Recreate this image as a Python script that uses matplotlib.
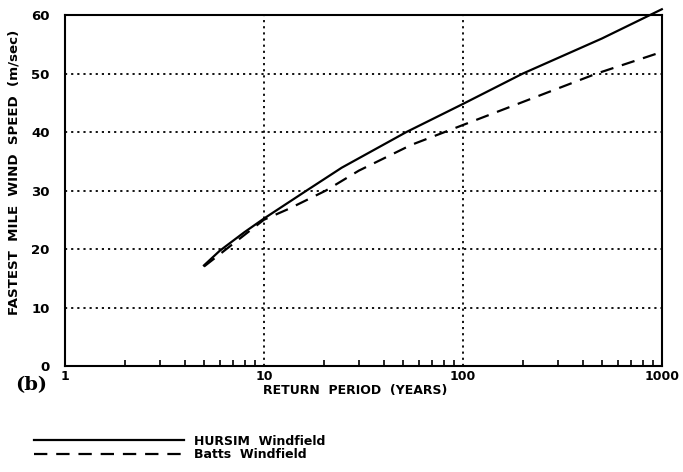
import matplotlib
matplotlib.use("Agg")
import matplotlib.pyplot as plt
from matplotlib.ticker import LogLocator, NullFormatter, FixedLocator

# Data
hursim_x = [5, 6, 8, 10, 16.4, 24.6, 52, 100, 200, 500, 1000]
hursim_y = [17.2, 19.7, 22.9, 25.2, 30.0, 33.9, 40.0, 44.8, 50.0, 56.0, 61.0]
batts_x = [5, 10, 13.4, 20.5, 30, 55, 100, 470, 1000]
batts_y = [17.0, 25.0, 26.9, 30.0, 33.4, 37.8, 41.2, 50.0, 53.7]

x_ticks = [1, 10, 100, 1000]
x_tick_labels = ["1", "10", "100", "1000"]
y_ticks = [0, 10, 20, 30, 40, 50, 60]

fig = plt.figure(figsize=(6.83, 4.72), dpi=100)
ax = fig.add_axes([0.095, 0.2246, 0.874, 0.7434])

l1, = ax.plot(hursim_x, hursim_y, color="black", lw=1.6, clip_on=False,
              label="HURSIM  Windfield")
l2, = ax.plot(batts_x, batts_y, color="black", lw=1.6, ls=(0, (6, 4)), clip_on=False,
              label="Batts  Windfield")

ax.set_xscale("log")
ax.set_xlim(1, 1000)
ax.set_ylim(0, 60)
ax.xaxis.set_major_locator(FixedLocator(x_ticks))
ax.set_xticklabels(x_tick_labels)
ax.xaxis.set_minor_locator(LogLocator(base=10, subs=range(2, 10)))
ax.xaxis.set_minor_formatter(NullFormatter())
ax.set_yticks(y_ticks)

ax.grid(True, which="major", color="black", ls=(0, (1.2, 2.2)), lw=1.3)
ax.tick_params(axis="x", which="major", length=0, labelsize=9, pad=3)
ax.tick_params(axis="y", which="major", length=0, labelsize=9.5, pad=11)
ax.tick_params(axis="x", which="minor", direction="in", length=4, width=1.2)
for lab in ax.get_xticklabels() + ax.get_yticklabels():
    lab.set_fontweight("bold")
for s in ax.spines.values():
    s.set_linewidth(1.5)

ax.set_xlabel("RETURN  PERIOD  (YEARS)", fontsize=9, fontweight="bold")
ax.xaxis.set_label_coords(0.487, -0.052, transform=ax.transAxes)
ax.xaxis.label.set_va("top")
ax.set_ylabel("FASTEST  MILE  WIND  SPEED  (m/sec)", fontsize=9.6, fontweight="bold")
ax.yaxis.set_label_coords(-0.075, 0.553, transform=ax.transAxes)

fig.text(0.022, 0.185, "(b)", fontsize=14, fontweight="bold", family="DejaVu Serif",
         va="center", ha="left")

fig.legend(handles=[l1, l2], loc="upper left", bbox_to_anchor=(0.0425, 0.09),
           frameon=False, handlelength=12, labelspacing=0.05,
           handletextpad=0.8, borderaxespad=0, prop={"weight": "bold", "size": 9})

fig.savefig("out.png", dpi=100)
